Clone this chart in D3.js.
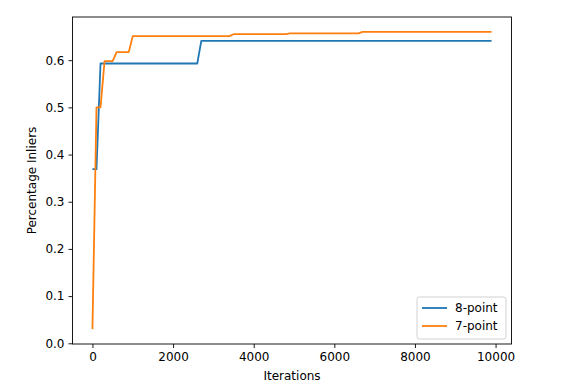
<!DOCTYPE html>
<html>
<head>
<meta charset="utf-8">
<script src="https://cdn.jsdelivr.net/npm/d3@7"></script>
<style>
    body { margin: 0; background: #fff; }
    text { font-family: "DejaVu Sans", sans-serif; fill: #000; }
</style>
</head>
<body>
<div id="chart"></div>
<script>
// vertices of each curve, [iteration, fraction of inliers]
var eightPoint = [
    [0, 0.369], [100, 0.369], [200, 0.593], [2600, 0.593],
    [2700, 0.641], [9900, 0.641]
];
var sevenPoint = [
    [0, 0.030], [100, 0.500], [200, 0.500], [300, 0.598], [500, 0.598],
    [600, 0.617], [900, 0.617], [1000, 0.651], [3400, 0.651], [3500, 0.655],
    [4800, 0.655], [4900, 0.657], [6600, 0.657], [6700, 0.660], [9900, 0.660]
];
var seriesNames = ['8-point', '7-point'];
var seriesColors = ['#1f77b4', '#ff7f0e'];
var xTicks = [0, 2000, 4000, 6000, 8000, 10000];
var yTicks = [0.0, 0.1, 0.2, 0.3, 0.4, 0.5, 0.6];

;(function () {
    var W = 568, H = 391;
    // plot area (note: a global named "top" would clash with window.top)
    var pl = 72.5, pr = 511.5, pt = 17, pb = 344;

    var svg = d3.select('#chart').append('svg')
        .attr('width', W)
        .attr('height', H);

    var x = d3.scaleLinear().domain([-495, 10395]).range([pl, pr]);
    var y = d3.scaleLinear().domain([-0.0015, 0.6915]).range([pb, pt]);

    // curves
    var line = d3.line()
        .x(function (d) { return x(d[0]); })
        .y(function (d) { return y(d[1]); });

    [eightPoint, sevenPoint].forEach(function (s, i) {
        svg.append('path')
            .datum(s)
            .attr('d', line)
            .attr('fill', 'none')
            .attr('stroke', seriesColors[i])
            .attr('stroke-width', 1.8)
            .attr('stroke-linejoin', 'round');
    });

    // axes
    var xAxis = d3.axisBottom(x).tickValues(xTicks).tickSize(4).tickPadding(4)
        .tickFormat(d3.format('d'));
    var yAxis = d3.axisLeft(y).tickValues(yTicks).tickSize(4).tickPadding(4)
        .tickFormat(d3.format('.1f'));

    var gx = svg.append('g').attr('transform', 'translate(0,' + pb + ')').call(xAxis);
    var gy = svg.append('g').attr('transform', 'translate(' + pl + ',0)').call(yAxis);
    [gx, gy].forEach(function (g) {
        g.select('.domain').remove();
        g.selectAll('.tick line').attr('stroke', '#000').attr('stroke-width', 0.9);
        g.selectAll('.tick text').attr('font-size', 12).attr('fill', '#262626');
    });

    // spines
    svg.append('rect')
        .attr('x', pl).attr('y', pt)
        .attr('width', pr - pl).attr('height', pb - pt)
        .attr('fill', 'none')
        .attr('stroke', '#000')
        .attr('stroke-width', 0.9);

    svg.append('text')
        .attr('x', (pl + pr) / 2)
        .attr('y', 380)
        .attr('text-anchor', 'middle')
        .attr('font-size', 12)
        .text('Iterations');

    svg.append('text')
        .attr('transform', 'translate(36,' + (pt + pb) / 2 + ') rotate(-90)')
        .attr('text-anchor', 'middle')
        .attr('font-size', 12)
        .text('Percentage Inliers');

    // legend
    var lg = svg.append('g').attr('transform', 'translate(417,297)');
    lg.append('rect')
        .attr('width', 89).attr('height', 42)
        .attr('rx', 2.5)
        .attr('fill', '#fff').attr('fill-opacity', 0.8)
        .attr('stroke', '#ccc').attr('stroke-width', 0.9);
    seriesNames.forEach(function (name, i) {
        var yy = 11 + i * 18;
        lg.append('line')
            .attr('x1', 5).attr('x2', 30)
            .attr('y1', yy).attr('y2', yy)
            .attr('stroke', seriesColors[i])
            .attr('stroke-width', 1.8);
        lg.append('text')
            .attr('x', 38).attr('y', yy + 4)
            .attr('font-size', 12)
            .text(name);
    });
})();
</script>
</body>
</html>
